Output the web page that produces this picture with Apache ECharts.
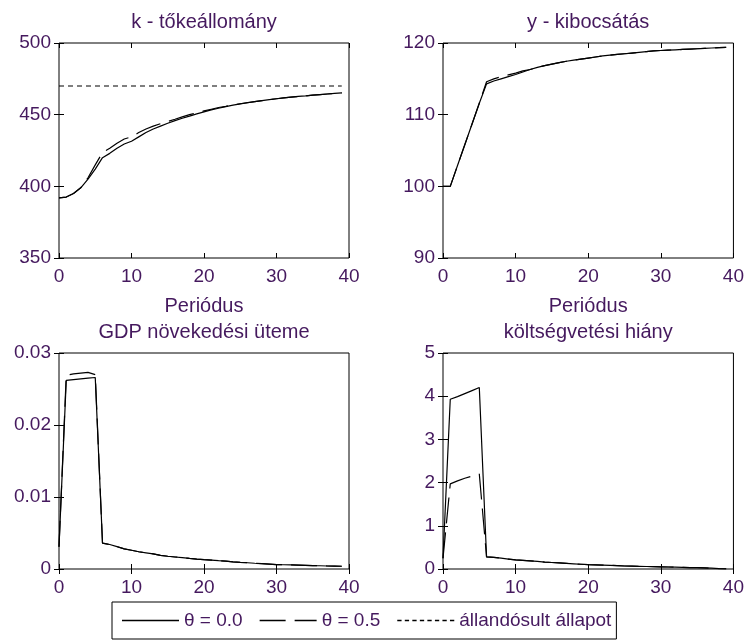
<!DOCTYPE html>
<html>
<head>
<meta charset="utf-8">
<script src="https://cdn.jsdelivr.net/npm/echarts@6/dist/echarts.min.js"></script>
<style>
  html, body { margin: 0; padding: 0; background: #fff; }
  #main { width: 747px; height: 642px; }
</style>
</head>
<body>
<div id="main"></div>
<script>
var periods = [];
for (var p = 0; p < 40; p++) { periods.push(p); }

// k - tőkeállomány
var k_theta0 = [392, 392.5, 395, 399, 405, 412, 420, 423, 426.5, 429.5, 431.5, 434.5, 437.5, 440, 442, 444, 445.8, 447.5, 449, 450.5,
    452, 453.3, 454.5, 455.6, 456.6, 457.5, 458.3, 459.1, 459.8, 460.5, 461.1, 461.7, 462.2, 462.7, 463.1, 463.6, 464, 464.4, 464.8, 465.2];
var k_theta5 = [392, 392.5, 395, 399, 406, 415, 423.5, 426.5, 430, 433, 434.5, 437.5, 440, 442, 443.7, 445.2, 446.8, 448.5, 450, 451.3,
    452.6, 453.8, 455, 455.8, 456.7, 457.6, 458.4, 459.1, 459.8, 460.5, 461.1, 461.7, 462.2, 462.7, 463.1, 463.6, 464, 464.4, 464.8, 465.2];
var k_steady = [470, 470, 470, 470, 470, 470, 470, 470, 470, 470, 470, 470, 470, 470, 470, 470, 470, 470, 470, 470,
    470, 470, 470, 470, 470, 470, 470, 470, 470, 470, 470, 470, 470, 470, 470, 470, 470, 470, 470, 470];

// y - kibocsátás
var y_theta0 = [100, 100, 102.9, 105.8, 108.7, 111.6, 114.3, 114.7, 115.0, 115.3, 115.6, 115.95, 116.3, 116.6, 116.85, 117.05, 117.25, 117.45, 117.6, 117.75,
    117.9, 118.05, 118.2, 118.3, 118.4, 118.5, 118.6, 118.7, 118.8, 118.9, 118.95, 119.0, 119.05, 119.1, 119.15, 119.2, 119.25, 119.3, 119.35, 119.4];
var y_theta5 = [100, 100, 102.9, 105.8, 108.7, 111.6, 114.6, 115.0, 115.3, 115.55, 115.8, 116.1, 116.3, 116.6, 116.85, 117.05, 117.25, 117.45, 117.6, 117.75,
    117.9, 118.05, 118.2, 118.3, 118.4, 118.5, 118.6, 118.7, 118.8, 118.9, 118.95, 119.0, 119.05, 119.1, 119.15, 119.2, 119.25, 119.3, 119.35, 119.4];

// GDP növekedési üteme
var g_theta0 = [0.0031, 0.0262, 0.0263, 0.0264, 0.0265, 0.0266, 0.0036, 0.0034, 0.0031, 0.0028, 0.0026, 0.0024, 0.00225, 0.0021, 0.0019, 0.00177, 0.00167, 0.00157, 0.00147, 0.00138,
    0.0013, 0.00123, 0.00116, 0.0011, 0.001, 0.00093, 0.00087, 0.0008, 0.00074, 0.00068, 0.00062, 0.00059, 0.00056, 0.00053, 0.0005, 0.00047, 0.00045, 0.00042, 0.0004, 0.00038];
var g_theta5 = [0.0031, 0.0269, 0.0271, 0.0272, 0.0273, 0.0270, 0.0036, 0.0034, 0.0031, 0.0028, 0.0026, 0.0024, 0.00225, 0.0021, 0.0019, 0.00177, 0.00167, 0.00157, 0.00147, 0.00138,
    0.0013, 0.00123, 0.00116, 0.0011, 0.001, 0.00093, 0.00087, 0.0008, 0.00074, 0.00068, 0.00062, 0.00059, 0.00056, 0.00053, 0.0005, 0.00047, 0.00045, 0.00042, 0.0004, 0.00038];

// költségvetési hiány
var d_theta0 = [0.25, 3.93, 3.99, 4.06, 4.13, 4.2, 0.28, 0.27, 0.25, 0.23, 0.21, 0.2, 0.19, 0.175, 0.16, 0.15, 0.14, 0.13, 0.12, 0.11,
    0.1, 0.095, 0.09, 0.085, 0.078, 0.07, 0.066, 0.062, 0.058, 0.054, 0.05, 0.046, 0.042, 0.038, 0.034, 0.03, 0.024, 0.018, 0.01, 0.004];
var d_theta5 = [0.25, 1.97, 2.04, 2.1, 2.15, 2.2, 0.28, 0.27, 0.25, 0.23, 0.21, 0.2, 0.19, 0.175, 0.16, 0.15, 0.14, 0.13, 0.12, 0.11,
    0.1, 0.095, 0.09, 0.085, 0.078, 0.07, 0.066, 0.062, 0.058, 0.054, 0.05, 0.046, 0.042, 0.038, 0.034, 0.03, 0.024, 0.018, 0.01, 0.004];

var panelTitles = ['k - tőkeállomány', 'y - kibocsátás', 'GDP növekedési üteme', 'költségvetési hiány'];
var yRanges = [[350, 500, 50], [90, 120, 10], [0, 0.03, 0.01], [0, 5, 1]];
var xTitle = 'Periódus';
var legendNames = ['θ = 0.0', 'θ = 0.5', 'állandósult állapot'];

var txtColor = '#45195e';
var fnt = 'Liberation Sans, Arial, sans-serif';

var grids = [
    { left: 59, top: 43, width: 290, height: 215 },
    { left: 443, top: 43, width: 293, height: 215 },
    { left: 59, top: 353, width: 290, height: 216 },
    { left: 443, top: 353, width: 293, height: 216 }
];

var xAxes = [], yAxes = [];
for (var i = 0; i < 4; i++) {
    grids[i].show = true;
    grids[i].borderColor = '#000';
    grids[i].borderWidth = 1;
    // bottom axis with labels
    xAxes.push({
        gridIndex: i, type: 'value', min: 0, max: 40, interval: 10, position: 'bottom',
        name: i < 2 ? xTitle : '', nameLocation: 'middle', nameGap: 38,
        nameTextStyle: { color: txtColor, fontSize: 20, fontFamily: fnt },
        axisLine: { show: false },
        axisTick: { show: true, inside: true, length: 5, lineStyle: { color: '#000' } },
        axisLabel: { color: txtColor, fontSize: 19, fontFamily: fnt, margin: 9 },
        splitLine: { show: false }
    });
    // top axis: ticks + title
    xAxes.push({
        gridIndex: i, type: 'value', min: 0, max: 40, interval: 10, position: 'top',
        name: panelTitles[i], nameLocation: 'middle', nameGap: 11,
        nameTextStyle: { color: txtColor, fontSize: 20, fontFamily: fnt },
        axisLine: { show: false },
        axisTick: { show: true, inside: true, length: 5, lineStyle: { color: '#000' } },
        axisLabel: { show: false },
        splitLine: { show: false }
    });
    var r = yRanges[i];
    yAxes.push({
        gridIndex: i, type: 'value', min: r[0], max: r[1], interval: r[2], position: 'left',
        axisLine: { show: false },
        axisTick: { show: true, inside: true, length: 5, lineStyle: { color: '#000' } },
        axisLabel: { color: txtColor, fontSize: 19, fontFamily: fnt, margin: 8 },
        splitLine: { show: false }
    });
    yAxes.push({
        gridIndex: i, type: 'value', min: r[0], max: r[1], interval: r[2], position: 'right',
        axisLine: { show: false },
        axisTick: { show: true, inside: true, length: 5, lineStyle: { color: '#000' } },
        axisLabel: { show: false },
        splitLine: { show: false }
    });
}

function pairs(vals) {
    var out = [];
    for (var j = 0; j < vals.length; j++) { out.push([periods[j], vals[j]]); }
    return out;
}

var solid = { color: '#000', width: 1.2, type: 'solid' };
var dashed = { color: '#000', width: 1.2, type: [26, 9] };
var dotted = { color: '#000', width: 1.2, type: [5, 4] };

function mkSeries(name, gi, vals, ls) {
    return {
        name: name, type: 'line', xAxisIndex: gi * 2, yAxisIndex: gi * 2,
        data: pairs(vals), showSymbol: false, symbol: 'none', lineStyle: ls,
        itemStyle: { color: '#000' }, animation: false
    };
}

var series = [
    mkSeries(legendNames[0], 0, k_theta0, solid),
    mkSeries(legendNames[1], 0, k_theta5, dashed),
    mkSeries(legendNames[2], 0, k_steady, dotted),
    mkSeries(legendNames[0], 1, y_theta0, solid),
    mkSeries(legendNames[1], 1, y_theta5, dashed),
    mkSeries(legendNames[0], 2, g_theta0, solid),
    mkSeries(legendNames[1], 2, g_theta5, dashed),
    mkSeries(legendNames[0], 3, d_theta0, solid),
    mkSeries(legendNames[1], 3, d_theta5, dashed)
];

// legend line samples (thin bars)
var iconSolid = 'path://M0,0 L57,0 L57,1.3 L0,1.3 Z';
var iconDashed = 'path://M0,0 L26,0 L26,1.3 L0,1.3 Z M35,0 L57,0 L57,1.3 L35,1.3 Z';
var iconDotted = 'path://M0,0 L4,0 L4,1.3 L0,1.3 Z M7,0 L11,0 L11,1.3 L7,1.3 Z M14,0 L18,0 L18,1.3 L14,1.3 Z M21,0 L25,0 L25,1.3 L21,1.3 Z ' +
    'M28,0 L32,0 L32,1.3 L28,1.3 Z M35,0 L39,0 L39,1.3 L35,1.3 Z M42,0 L46,0 L46,1.3 L42,1.3 Z M49,0 L53,0 L53,1.3 L49,1.3 Z';

var myChart = echarts.init(document.getElementById('main'));
var option = {
    backgroundColor: '#fff',
    animation: false,
    grid: grids,
    xAxis: xAxes,
    yAxis: yAxes,
    legend: {
        show: true,
        data: [
            { name: legendNames[0], icon: iconSolid },
            { name: legendNames[1], icon: iconDashed },
            { name: legendNames[2], icon: iconDotted }
        ],
        left: 112, top: 602,
        padding: [9, 5, 9, 10],
        itemWidth: 57, itemHeight: 14, itemGap: 17,
        itemStyle: { color: '#000', borderWidth: 0 },
        lineStyle: { width: 0 },
        backgroundColor: '#fff', borderColor: '#000', borderWidth: 1,
        textStyle: { color: txtColor, fontSize: 19, fontFamily: fnt },
        selectedMode: false
    },
    series: series
};
myChart.setOption(option);
</script>
</body>
</html>
